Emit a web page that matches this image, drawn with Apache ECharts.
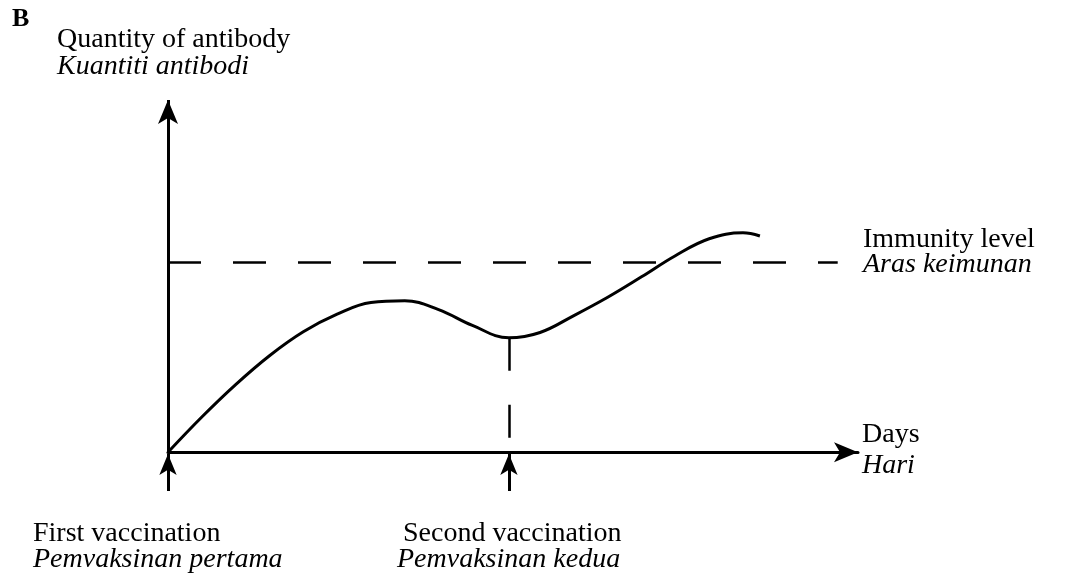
<!DOCTYPE html>
<html>
<head>
<meta charset="utf-8">
<script src="https://cdn.jsdelivr.net/npm/echarts@6/dist/echarts.min.js"></script>
<style>
  html, body { margin: 0; padding: 0; background: #fff; }
  #chart { width: 1071px; height: 585px; }
</style>
</head>
<body>
<div id="chart"></div>
<script>
// antibody curve (x: days, arbitrary units; y: quantity)
const days = [0, 5, 10, 15, 20, 25, 30, 35, 40, 45, 50.4, 55, 60, 65, 70, 75, 80, 85, 87.5]
const antibody = [0, 10, 19.2, 27.4, 34.2, 39.2, 42.5, 43.0, 40.5, 36.0, 32.5, 34.0, 38.8, 44.0, 49.8, 55.8, 60.6, 62.3, 61.4]
const immunityLevel = 54
const immunityEnd = 99
const vaccinationDays = [0, 50.4]
const secondDip = 32.5
const yAxisTop = 100

const font = '"Liberation Serif", "Times New Roman", serif'
const black = '#000'

const curve = days.map((d, i) => [d, antibody[i]])

const chart = echarts.init(document.getElementById('chart'))

const label = (text, left, top, style) => ({
  type: 'text',
  left: left,
  top: top,
  style: { text: text, font: (style || '') + ' 28px ' + font, fill: black }
})

const option = {
  animation: false,
  backgroundColor: '#fff',
  grid: { left: 168, right: 213, top: 100, bottom: 94 },
  xAxis: {
    type: 'value',
    min: 0,
    max: 102,
    axisLine: {
      show: true,
      onZero: true,
      symbol: ['none', 'arrow'],
      symbolSize: [15, 24],
      lineStyle: { color: black, width: 3 }
    },
    axisTick: { show: false },
    axisLabel: { show: false },
    splitLine: { show: false }
  },
  yAxis: {
    type: 'value',
    min: -11,
    max: 100,
    axisLine: { show: false },
    axisTick: { show: false },
    axisLabel: { show: false },
    splitLine: { show: false }
  },
  series: [
    {
      name: 'antibody',
      type: 'line',
      data: curve,
      smooth: 0.4,
      showSymbol: false,
      symbol: 'none',
      lineStyle: { color: black, width: 3 },
      silent: true,
      markLine: {
        silent: true,
        animation: false,
        label: { show: false },
        data: [
          // y axis with arrow
          [
            { coord: [0, 0], symbol: 'none' },
            { coord: [0, yAxisTop], symbol: 'arrow', symbolSize: [15, 24] }
          ],
          // immunity level
          [
            { coord: [0, immunityLevel], symbol: 'none', lineStyle: { type: [33, 32], width: 2.5, color: black } },
            { coord: [immunityEnd, immunityLevel], symbol: 'none' }
          ],
          // second vaccination drop line
          [
            { coord: [vaccinationDays[1], secondDip], symbol: 'none', lineStyle: { type: [33, 34], width: 2.5, color: black } },
            { coord: [vaccinationDays[1], 0], symbol: 'none' }
          ],
          // vaccination arrows below the axis
          ...vaccinationDays.map(d => [
            { coord: [d, -11], symbol: 'none' },
            { coord: [d, -0.5], symbol: 'arrow', symbolSize: [13, 21] }
          ])
        ],
        lineStyle: { color: black, width: 3, type: 'solid' }
      }
    }
  ],
  graphic: [
    { type: 'text', left: 12, top: 6, style: { text: 'B', font: 'bold 26px ' + font, fill: black } },
    label('Quantity of antibody', 57, 26),
    label('Kuantiti antibodi', 57, 53, 'italic'),
    label('Immunity level', 863, 226),
    label('Aras keimunan', 863, 251, 'italic'),
    label('Days', 862, 421),
    label('Hari', 862, 452, 'italic'),
    label('First vaccination', 33, 520),
    label('Pemvaksinan pertama', 33, 546, 'italic'),
    label('Second vaccination', 403, 520),
    label('Pemvaksinan kedua', 397, 546, 'italic')
  ]
}

chart.setOption(option)
window.addEventListener('resize', () => chart.resize())
</script>
</body>
</html>
